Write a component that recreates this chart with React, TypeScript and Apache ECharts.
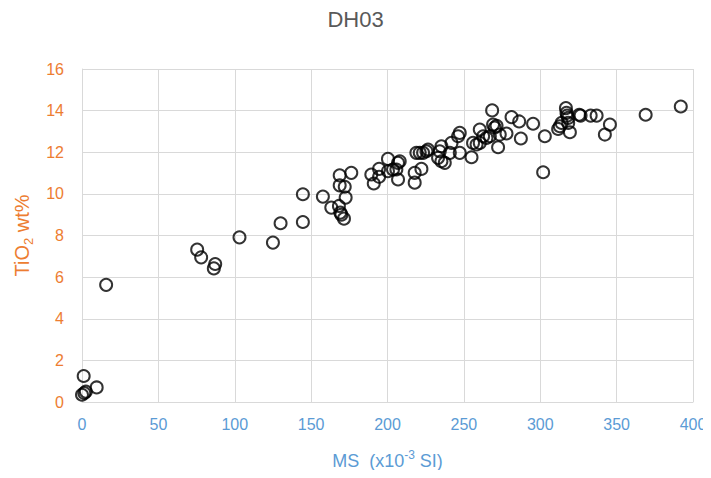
import React, { useEffect, useRef } from "react";
import * as echarts from "echarts";

const chartTitle = "DH03";
const xTicks = [0, 50, 100, 150, 200, 250, 300, 350, 400];
const yTicks = [0, 2, 4, 6, 8, 10, 12, 14, 16];

const msValues = [
  1.1, 0.0, 1.5, 2.5, 9.6,
  15.8, 75.4, 78, 87.2, 86.3, 103.1,
  125.0, 130.0, 144.6, 144.6, 157.7, 163.2, 168.2, 169.1, 169.8, 171.5, 172.6, 168.7, 168.7, 172, 176.3,
  189.4, 191.0, 194.5, 194.5, 200.3, 200.3, 203.6, 206.9, 208, 205.8, 206.9, 217.8, 222.2, 217.8, 218.9,
  221.1, 223.3, 225.5, 226.5, 234.2, 235.3, 233.1, 235.3, 237.5, 240.8, 241.9, 247.3, 246.2, 247.3,
  268.5, 281.2, 286.2, 295.3, 303.0, 287.3, 301.9, 260.4, 269.1, 270.2, 271.4, 262.6, 264.8, 267,
  256, 258.3, 260.4, 272.4, 273.5, 277.9, 255,
  316.8, 317.2, 317.6, 318.3, 325.5, 326.4, 333, 336.9, 345.6, 342.3, 319.4, 311.7, 312.8, 314, 318.3,
  369, 392,
];
const tio2Values = [
  1.25, 0.35, 0.43, 0.5, 0.7,
  5.63, 7.32, 6.95, 6.63, 6.42, 7.91,
  7.66, 8.59, 8.65, 9.98, 9.87, 9.34, 9.42, 9.1, 9.0, 8.81, 9.82, 10.89, 10.41, 10.34, 11.01,
  10.93, 10.5, 10.82, 11.2, 11.68, 11.09, 11.17, 11.49, 11.57, 11.17, 10.69, 10.54, 11.2, 11.01, 11.97,
  11.97, 11.97, 12.05, 12.13, 12.05, 12.29, 11.73, 11.57, 11.49, 11.97, 12.45, 11.97, 12.77, 12.93,
  14.01, 13.69, 13.48, 13.37, 12.77, 12.66, 11.04, 13.09, 13.33, 13.19, 13.27, 12.77, 12.69, 12.77,
  12.45, 12.37, 12.45, 12.24, 12.85, 12.9, 11.76,
  14.12, 13.89, 13.76, 13.65, 13.8, 13.76, 13.76, 13.76, 13.33, 12.85, 12.96, 13.12, 13.25, 13.41, 13.41,
  13.8, 14.2,
];

const FONT = "'Liberation Sans', Arial, sans-serif";
const ORANGE = "#ED7D31";
const BLUE = "#5B9BD5";

export default function App() {
  const ref = useRef<HTMLDivElement>(null);
  useEffect(() => {
    if (!ref.current) return;
    const chart = echarts.init(ref.current, null, { renderer: "svg" });
    const data = msValues.map((x, i) => [x, tio2Values[i]]);
    chart.setOption({
      animation: false,
      backgroundColor: "#ffffff",
      title: {
        text: chartTitle,
        left: "center",
        top: 3,
        textStyle: { color: "#595959", fontSize: 22, fontWeight: "normal", fontFamily: FONT },
      },
      grid: { left: 82, right: 18, top: 69, bottom: 74, containLabel: false },
      xAxis: {
        type: "value",
        min: xTicks[0],
        max: xTicks[xTicks.length - 1],
        interval: 50,
        name: "MS  (x10{sup|-3} SI)",
        nameLocation: "middle",
        nameGap: 47,
        nameTextStyle: {
          color: BLUE,
          fontSize: 18,
          lineHeight: 24,
          fontFamily: FONT,
          rich: {
            sup: { fontSize: 12, lineHeight: 14, color: BLUE, fontFamily: FONT, verticalAlign: "top" },
          },
        },
        axisLine: { show: true, lineStyle: { color: "#d9d9d9", width: 1 } },
        axisTick: { show: false },
        splitLine: { show: true, lineStyle: { color: "#d9d9d9", width: 1 } },
        axisLabel: { color: BLUE, fontSize: 16, fontFamily: FONT, margin: 14 },
      },
      yAxis: {
        type: "value",
        min: yTicks[0],
        max: yTicks[yTicks.length - 1],
        interval: 2,
        name: "TiO{sub|2} wt%",
        nameLocation: "middle",
        nameGap: 45,
        nameTextStyle: {
          color: ORANGE,
          fontSize: 20,
          lineHeight: 26,
          fontFamily: FONT,
          rich: {
            sub: { fontSize: 13, lineHeight: 14, color: ORANGE, fontFamily: FONT, verticalAlign: "bottom" },
          },
        },
        axisLine: { show: true, lineStyle: { color: "#d9d9d9", width: 1 } },
        axisTick: { show: false },
        splitLine: { show: true, lineStyle: { color: "#d9d9d9", width: 1 } },
        axisLabel: { color: ORANGE, fontSize: 16, fontFamily: FONT, margin: 18 },
      },
      series: [
        {
          type: "scatter",
          data,
          symbol: "circle",
          symbolSize: 12,
          itemStyle: { color: "rgba(255,255,255,0)", borderColor: "#000000", borderWidth: 2 },
        },
      ],
    });
    return () => chart.dispose();
  }, []);
  return <div ref={ref} style={{ width: 711, height: 478, margin: -8 }} />;
}
